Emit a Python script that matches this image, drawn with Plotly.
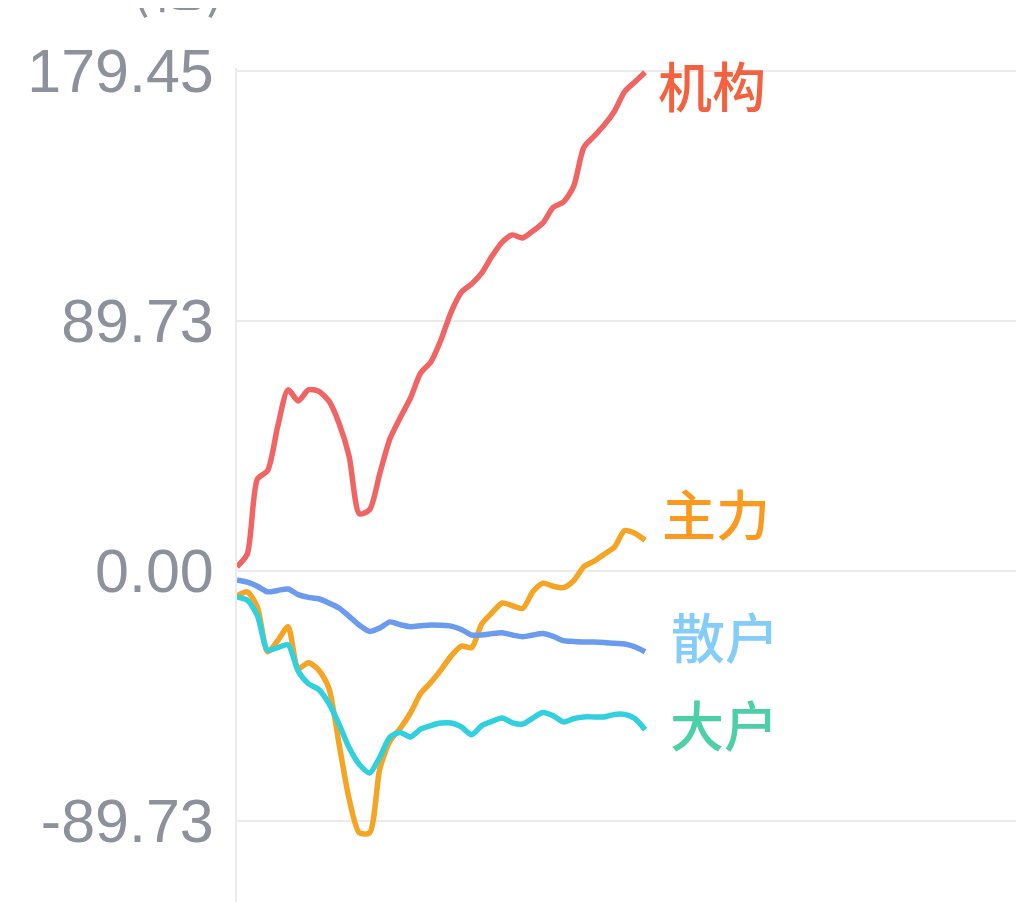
import plotly.graph_objects as go

# minutes since the open, sampled every 3 minutes
minutes = list(range(0, 121, 3))

jigou = [1.5, 6, 33, 36, 52, 65, 61, 65, 64.5, 61, 53, 41, 20.5, 22, 35, 47.5,
         55, 62, 71, 75, 83, 93, 100, 103, 107, 113, 118, 120.6, 119.5, 122,
         124.9, 130.5, 132.4, 138, 152, 156, 160, 165, 172, 175.5, 179]
zhuli = [-9, -7.5, -13, -29, -25, -20, -35, -33, -35.5, -42, -62, -82, -94, -94,
         -71, -61, -56.5, -51, -44, -40, -35.5, -30.5, -27, -27.5, -19, -15,
         -11.5, -12.5, -13.5, -7.5, -4.4, -5.5, -6, -3.5, 1.5, 3.5, 6, 8.5, 14.5,
         13.5, 11]
sanhu = [-3.2, -4, -5.5, -7.5, -7, -6.5, -8.5, -9.5, -10, -11.5, -13.3, -16.3,
         -19.5, -21.7, -20.5, -18.3, -19.3, -20, -19.7, -19.4, -19.5, -19.8, -21,
         -23, -23, -22.5, -22.2, -23, -23.6, -23, -22.5, -23.5, -25, -25.3, -25.5,
         -25.5, -25.7, -26, -26.2, -27.2, -29]
dahu = [-9.3, -10.5, -16, -28.4, -27.5, -26.5, -36, -40.5, -42.5, -47.5, -55,
        -63.5, -69.5, -72.5, -66.8, -59.6, -58, -59.6, -56.8, -55.5, -54.6, -54.6,
        -56, -58.8, -55.5, -54, -52.8, -54.5, -55, -52.8, -50.8, -52, -54.2, -53,
        -52.4, -52.4, -52.4, -51.5, -51.5, -53, -57]

tick_vals = [-89.73, 0, 89.73, 179.45]
tick_text = ["-89.73", "0.00", "89.73", "179.45"]

series = [
    ("机构", jigou, "#f06464", "#f4613f", -12, 11),
    ("主力", zhuli, "#f5a523", "#fb9a1e", 28, 15),
    ("散户", sanhu, "#6b9bef", "#84cdf8", 16, 24),
    ("大户", dahu, "#30d0df", "#4dcfa8", 6, 23),
]

fig = go.Figure()
for name, vals, line_color, label_color, yshift, xshift in series:
    fig.add_trace(go.Scatter(x=minutes, y=vals, mode="lines", name=name,
                             line=dict(color=line_color, width=5.5, shape="spline", smoothing=0.7)))
    # series label next to the last point
    fig.add_annotation(x=minutes[-1], y=vals[-1], text=name, showarrow=False,
                       xanchor="left", yanchor="middle", xshift=xshift, yshift=yshift,
                       font=dict(family="Noto Sans CJK SC", size=54, color=label_color, weight=500))

# unit label, mostly cut off at the top
fig.add_annotation(xref="paper", yref="paper", x=0, y=1, text="(亿)", showarrow=False,
                   xanchor="center", yanchor="bottom", xshift=-59, yshift=43,
                   font=dict(family="Noto Sans CJK SC", size=56, color="#8c919b"))

fig.update_layout(
    width=1024, height=902,
    margin=dict(l=229, r=0, t=60, b=0),
    paper_bgcolor="white", plot_bgcolor="white",
    showlegend=False,
    xaxis=dict(range=[0, 233.8], showgrid=False, zeroline=False, showticklabels=False,
               showline=False),
    yaxis=dict(range=[-121.7, 180.5], tickvals=tick_vals, ticktext=tick_text,
               showgrid=True, gridcolor="#ebebeb", gridwidth=2, zeroline=False,
               showline=True, linecolor="#ebebeb", linewidth=2, ticks="",
               ticklabelstandoff=9,
               tickfont=dict(family="Liberation Sans", size=61, color="#8c919b")),
)

fig.write_html("out.html")
